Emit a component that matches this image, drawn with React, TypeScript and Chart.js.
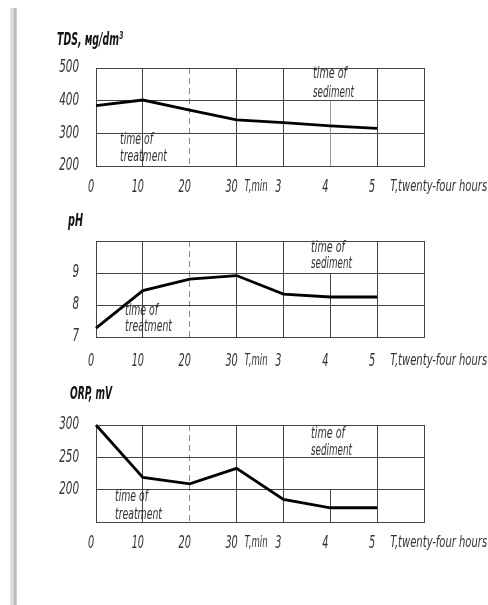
import React, { useEffect, useRef } from 'react';
import { Chart, registerables } from 'chart.js';

Chart.register(...registerables);

// ---- data ----
const timeLabels = ['0', '10', '20', '30', '3', '4', '5', ''];
const tdsValues = [385, 402, 371, 341, 333, 323, 315];
const phValues = [7.28, 8.45, 8.81, 8.92, 8.34, 8.25, 8.25];
const orpValues = [300, 219, 209, 233, 185, 172, 172];
const tdsTicks = [200, 300, 400, 500];
const phTicks = [7, 8, 9];
const orpTicks = [200, 250, 300];

const FONT = '"DejaVu Sans Condensed", "DejaVu Sans", sans-serif';
const GRID = '#444444';
const TEXT = '#333333';
const HIDDEN = 'rgba(0,0,0,0)';

type Panel = {
  top: number; height: number; areaTop: number; areaBottom: number;
  values: number[]; min: number; max: number; step: number; shown: number[];
  partialFrom: number; partialColor: string;
  title: string; titleX: number; titleY: number; titleW: number;
  treat: [number, number, number]; sed: [number, number, number];
  tickPad: number;
};

const panels: Panel[] = [
  {
    top: 0, height: 200, areaTop: 68, areaBottom: 166,
    values: tdsValues, min: 200, max: 500, step: 100, shown: tdsTicks,
    partialFrom: 400, partialColor: '#9a9a9a',
    title: 'TDS, мg/dm³', titleX: 57, titleY: 40, titleW: 66,
    treat: [120, 140, 157.5], sed: [313, 74.5, 93], tickPad: 11,
  },
  {
    top: 200, height: 185, areaTop: 41, areaBottom: 137,
    values: phValues, min: 7, max: 10, step: 1, shown: phTicks,
    partialFrom: 9, partialColor: GRID,
    title: 'pH', titleX: 68, titleY: 21.5, titleW: 15,
    treat: [125, 111.5, 127.5], sed: [311, 48, 64], tickPad: 14,
  },
  {
    top: 385, height: 220, areaTop: 40, areaBottom: 137,
    values: orpValues, min: 150, max: 300, step: 50, shown: orpTicks,
    partialFrom: 200, partialColor: GRID,
    title: 'ORP, mV', titleX: 70, titleY: 9, titleW: 42,
    treat: [115, 112.5, 130], sed: [311, 49, 66], tickPad: 11,
  },
];

// draws horizontally condensed italic text; align: 'left' | 'center' | 'right'
function drawText(
  ctx: CanvasRenderingContext2D, text: string, x: number, y: number,
  size: number, color: string, opts: { w?: number; sx?: number; weight?: string; align?: string } = {}
) {
  ctx.save();
  ctx.font = `italic ${opts.weight || 'normal'} ${size}px ${FONT}`;
  ctx.fillStyle = color;
  ctx.textBaseline = 'middle';
  ctx.textAlign = 'left';
  const mw = ctx.measureText(text).width;
  const sx = opts.w ? opts.w / mw : opts.sx || 0.67;
  const w = mw * sx;
  const x0 = opts.align === 'center' ? x - w / 2 : opts.align === 'right' ? x - w : x;
  ctx.translate(x0, y);
  ctx.scale(sx, 1);
  ctx.fillText(text, 0, 0);
  ctx.restore();
}

function PanelChart({ p }: { p: Panel }) {
  const ref = useRef<HTMLCanvasElement | null>(null);
  useEffect(() => {
    if (!ref.current) return;
    const deco = {
      id: 'deco',
      beforeDatasetsDraw(chart: any) {
        const { ctx, chartArea, scales } = chart;
        const x = Math.round(scales.x.getPixelForValue(5)) + 0.5;
        const y0 = scales.y.getPixelForValue(p.partialFrom);
        ctx.save();
        ctx.strokeStyle = p.partialColor;
        ctx.lineWidth = 1;
        ctx.beginPath();
        ctx.moveTo(x, y0);
        ctx.lineTo(x, chartArea.bottom);
        ctx.stroke();
        ctx.restore();
      },
      afterDraw(chart: any) {
        const { ctx, chartArea, scales } = chart;
        // tick labels from the scales' own ticks, drawn condensed
        const ly = chartArea.bottom + p.tickPad + 10;
        scales.x.ticks.forEach((t: any, i: number) => {
          const lab = String(t.label ?? '');
          if (!lab) return;
          drawText(ctx, lab, scales.x.getPixelForTick(i) - 5, ly, 18, TEXT, { sx: 0.6, align: 'center' });
        });
        scales.y.ticks.forEach((t: any, i: number) => {
          const lab = String(t.label ?? '');
          if (!lab) return;
          drawText(ctx, lab, chartArea.left - 17, scales.y.getPixelForTick(i), 17, TEXT, { sx: 0.68, align: 'right' });
        });
        drawText(ctx, p.title, p.titleX, p.titleY, 18, '#111', { w: p.titleW, weight: 'bold' });
        drawText(ctx, 'time of', p.treat[0], p.treat[1], 15, TEXT, { w: 33 });
        drawText(ctx, 'treatment', p.treat[0], p.treat[2], 15, TEXT, { w: 47 });
        drawText(ctx, 'time of', p.sed[0], p.sed[1], 15, TEXT, { w: 34 });
        drawText(ctx, 'sediment', p.sed[0], p.sed[2], 15, TEXT, { w: 41 });
        drawText(ctx, 'T,min', scales.x.getPixelForValue(3) + 8, ly, 16, TEXT, { w: 23 });
        drawText(ctx, 'T,twenty-four hours', scales.x.getPixelForValue(6) + 13, ly, 16, TEXT, { w: 97 });
      },
    };
    const chart = new Chart(ref.current, {
      type: 'line',
      data: {
        labels: timeLabels,
        datasets: [{
          data: p.values, borderColor: '#000', borderWidth: 2.8,
          pointRadius: 0, tension: 0, fill: false, clip: 6,
        } as any],
      },
      options: {
        responsive: false,
        animation: false,
        events: [],
        layout: { padding: { top: p.areaTop, right: 64, bottom: 0, left: 0 } },
        plugins: { legend: { display: false }, tooltip: { enabled: false } },
        scales: {
          x: {
            type: 'category',
            offset: false,
            grid: {
              color: (c: any) => (c.index === 2 ? '#8a8a8a' : c.index === 5 ? HIDDEN : GRID),
              lineWidth: 1, drawTicks: false, offset: false,
            },
            border: { color: GRID, width: 1, dash: (c: any) => (c.index === 2 ? [6, 4] : []) } as any,
            ticks: {
              color: HIDDEN, font: { family: FONT, size: 17, style: 'italic' },
              padding: p.tickPad, maxRotation: 0, autoSkip: false,
            },
            afterFit: (s: any) => { s.height = p.height - p.areaBottom; },
          },
          y: {
            type: 'linear', min: p.min, max: p.max,
            grid: { color: GRID, lineWidth: 1, drawTicks: false },
            border: { color: GRID, width: 1 },
            ticks: {
              stepSize: p.step, color: HIDDEN, padding: 17,
              font: { family: FONT, size: 16, style: 'italic' },
              callback: (v: any) => (p.shown.includes(Number(v)) ? String(v) : ''),
            },
            afterFit: (s: any) => { s.width = 96; },
          },
        },
      } as any,
      plugins: [deco],
    });
    return () => chart.destroy();
  }, [p]);
  return (
    <canvas
      ref={ref}
      width={488}
      height={p.height}
      style={{ position: 'absolute', left: 0, top: p.top, width: 488, height: p.height, display: 'block' }}
    />
  );
}

export default function App() {
  return (
    <div style={{ position: 'absolute', left: 0, top: 0, width: 488, height: 605, background: '#fff', overflow: 'hidden' }}>
      <div
        style={{
          position: 'absolute', left: 10, top: 8, width: 7, height: 597,
          background: 'linear-gradient(to right, #e2e2e2 0px, #d6d6d6 4px, #9a9a9a 5px, #dcdcdc 6px, #bdbdbd 7px)',
        }}
      />
      {panels.map((p, i) => (
        <PanelChart key={i} p={p} />
      ))}
    </div>
  );
}
